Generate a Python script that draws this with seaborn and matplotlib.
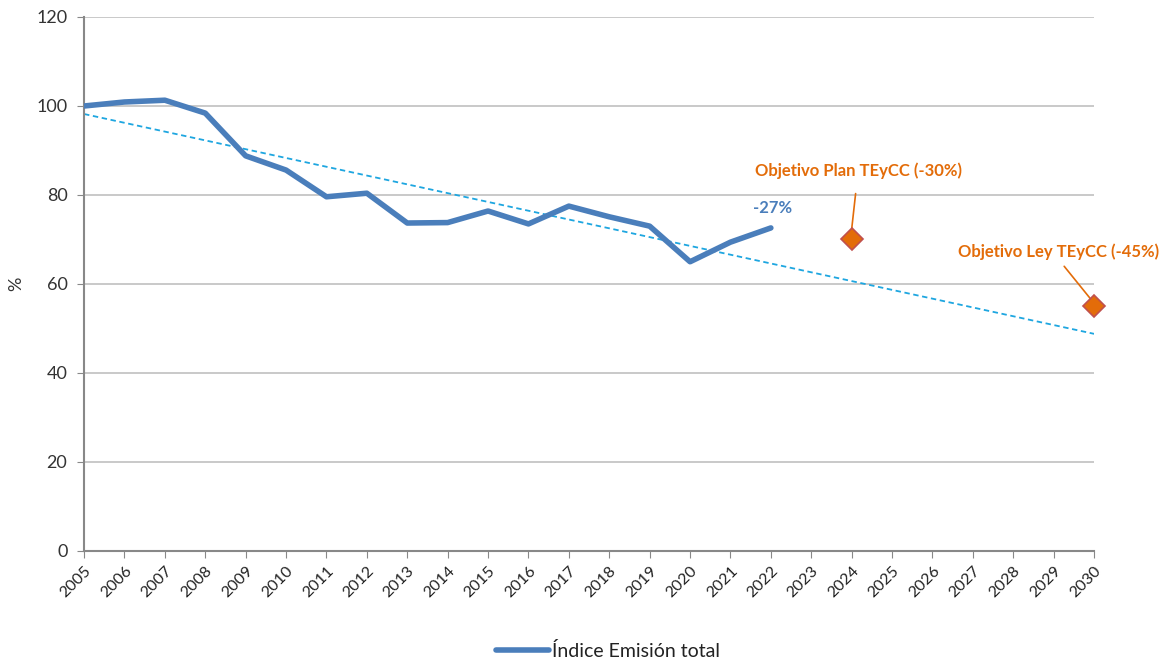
import pandas as pd
import matplotlib
matplotlib.use("Agg")
import matplotlib.pyplot as plt
import seaborn as sns

# data
years = list(range(2005, 2023))
emission_index = [100.0, 100.9, 101.3, 98.4, 88.8, 85.6, 79.6, 80.4, 73.7, 73.8,
                  76.4, 73.5, 77.5, 75.1, 73.0, 65.0, 69.4, 72.6]
trend_years = [2005, 2030]
trend_values = [98.2, 48.8]
target_years = [2024, 2030]
target_values = [70.0, 55.0]
target_labels = ["Objetivo Plan TEyCC (-30%)", "Objetivo Ley TEyCC (-45%)"]
last_label = "-27%"
axis_years = list(range(2005, 2031))

sns.set_style("white")
plt.rcParams["font.family"] = ["Lato", "DejaVu Sans"]

df = pd.DataFrame({"year": years, "value": emission_index})

fig = plt.figure(figsize=(11.69, 6.64), dpi=100)
ax = fig.add_axes([0.0719, 0.1702, 0.8640, 0.8042])

blue = "#4A7EBB"
orange = "#E36C09"

ax.plot(trend_years, trend_values, color="#1EA6E0", lw=1.3, ls=(0, (3, 2)), zorder=2)
sns.lineplot(data=df, x="year", y="value", color=blue, lw=4, ax=ax,
             label="Índice Emisión total", zorder=3)
ax.plot(target_years, target_values, ls="none", marker="D", markersize=11.5,
        markerfacecolor=orange, markeredgecolor="#C0504D", markeredgewidth=1.2,
        zorder=4, clip_on=False)

ax.text(years[-1] + 0.05, emission_index[-1] + 4.4, last_label, color=blue,
        fontsize=12, fontweight="bold", ha="center", va="center")

ax.annotate(target_labels[0], xy=(target_years[0], target_values[0] + 2.3),
            xytext=(target_years[0] + 0.16, 85.4), color=orange, fontsize=12,
            fontweight="bold", ha="center", va="center",
            arrowprops=dict(arrowstyle="-", color=orange, lw=1.2, shrinkA=8, shrinkB=0))
ax.annotate(target_labels[1], xy=(target_years[1] - 0.1, target_values[1] + 1.8),
            xytext=(target_years[1] - 0.87, 67.3), color=orange, fontsize=12,
            fontweight="bold", ha="center", va="center",
            arrowprops=dict(arrowstyle="-", color=orange, lw=1.2, shrinkA=3, shrinkB=0,
                            relpos=(0.5, 0.0)))

ax.set_xlim(2005, 2030)
ax.set_ylim(0, 120)
ax.set_xticks(axis_years)
ax.set_xticklabels([str(y) for y in axis_years], rotation=45, ha="right",
                   rotation_mode="anchor", fontsize=11.5, color="#222222")
ax.set_yticks(range(0, 121, 20))
ax.tick_params(axis="y", labelsize=13, labelcolor="#333333", length=5, color="#888888",
               left=True, pad=7)
ax.tick_params(axis="x", length=5, color="#888888", bottom=True, pad=4)
ax.yaxis.grid(True, color="#C0C0C0", lw=1.2)
ax.set_axisbelow(True)
ax.set_xlabel("")
ax.set_ylabel("%", fontsize=13, color="#333333")
ax.yaxis.set_label_coords(-0.059, 0.5)

for side in ["top", "right"]:
    ax.spines[side].set_visible(False)
for side in ["left", "bottom"]:
    ax.spines[side].set_color("#888888")
    ax.spines[side].set_linewidth(1.5)

ax.legend(loc="center", bbox_to_anchor=(0.519, -0.187), frameon=False, fontsize=14,
          handlelength=2.7, handletextpad=0.2, labelcolor="#222222")

fig.savefig("out.png", dpi=100)
